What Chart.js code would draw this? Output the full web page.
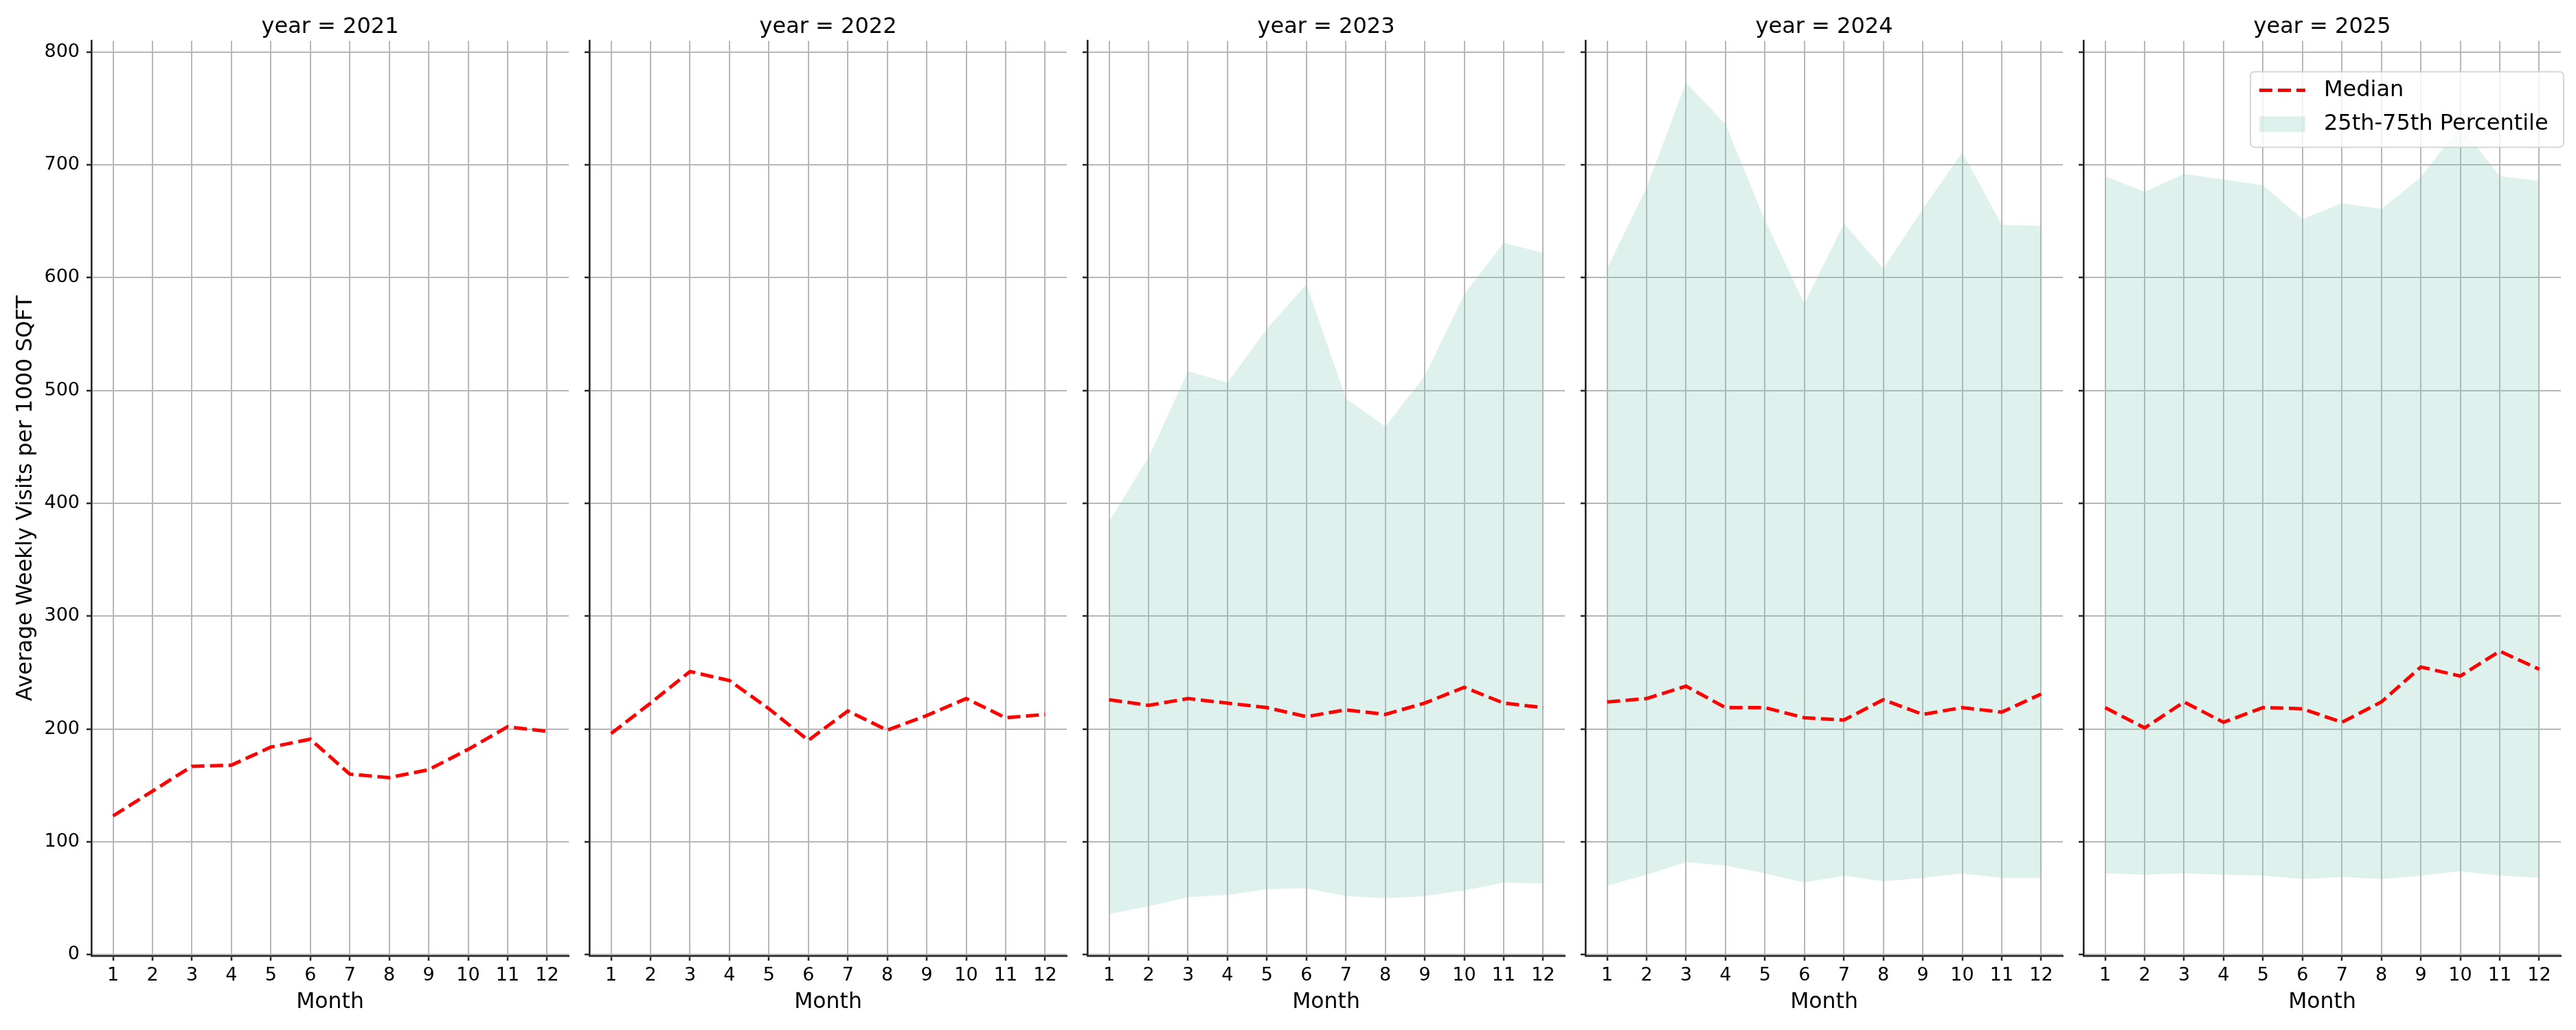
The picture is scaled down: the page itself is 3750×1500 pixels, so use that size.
<!DOCTYPE html>
<html>
<head>
<meta charset="utf-8">
<script src="https://cdn.jsdelivr.net/npm/chart.js@4"></script>
<style>
    body { margin: 0; background: #fff; width: 3750px; height: 1500px; position: relative; overflow: hidden; }
    canvas { position: absolute; top: 0; }
</style>
</head>
<body>
<canvas id="p0" width="838" height="1500"></canvas>
<canvas id="p1" width="838" height="1500"></canvas>
<canvas id="p2" width="838" height="1500"></canvas>
<canvas id="p3" width="838" height="1500"></canvas>
<canvas id="p4" width="838" height="1500"></canvas>
<script>
const $ = id => document.getElementById(id);

// dados
const months = [1, 2, 3, 4, 5, 6, 7, 8, 9, 10, 11, 12];
const years = [2021, 2022, 2023, 2024, 2025];
const yTicks = [0, 100, 200, 300, 400, 500, 600, 700, 800];

const median2021 = [123, 145, 167, 168, 184, 191, 160, 157, 164, 182, 202, 198];
const median2022 = [196, 223, 251, 243, 218, 190, 216, 199, 212, 227, 210, 213];

const median2023 = [226, 221, 227, 223, 219, 211, 217, 213, 223, 237, 223, 219];
const p25_2023 = [36, 43, 51, 53, 58, 59, 52, 50, 52, 57, 64, 63];
const p75_2023 = [384, 441, 517, 507, 555, 594, 493, 468, 513, 585, 631, 622];

const median2024 = [224, 227, 238, 219, 219, 210, 208, 226, 213, 219, 215, 231];
const p25_2024 = [61, 71, 82, 79, 72, 64, 70, 65, 68, 72, 68, 68];
const p75_2024 = [608, 680, 773, 736, 651, 577, 648, 608, 661, 711, 647, 646];

const median2025 = [219, 201, 224, 206, 219, 218, 206, 224, 255, 247, 269, 253];
const p25_2025 = [72, 71, 72, 71, 70, 67, 69, 67, 70, 74, 70, 68];
const p75_2025 = [690, 676, 692, 687, 682, 652, 666, 661, 689, 735, 690, 686];

const medians = [median2021, median2022, median2023, median2024, median2025];
const lows = [null, null, p25_2023, p25_2024, p25_2025];
const highs = [null, null, p75_2023, p75_2024, p75_2025];

const FILL = "rgba(127,199,179,0.25)";
const GRID = "#b7b7b7";
const AXIS = "#262626";

Chart.defaults.font.family = "'DejaVu Sans', sans-serif";
Chart.defaults.color = "#000";

const pontos = arr => months.map((m, i) => ({ x: m, y: arr[i] }));

const legendaBox = {
    id: "legendaBox",
    afterDraw(chart) {
        const { ctx, chartArea: ca } = chart;
        const left = ca.right - 452;
        const top = ca.top + 45;

        ctx.save();
        ctx.beginPath();
        ctx.roundRect(left, top, 456, 110, 6);
        ctx.fillStyle = "rgba(255,255,255,0.8)";
        ctx.fill();
        ctx.lineWidth = 2;
        ctx.strokeStyle = "rgba(204,204,204,0.8)";
        ctx.stroke();

        ctx.beginPath();
        ctx.setLineDash([19, 8]);
        ctx.strokeStyle = "#ff0000";
        ctx.lineWidth = 5;
        ctx.moveTo(left + 13, top + 27);
        ctx.lineTo(left + 80, top + 27);
        ctx.stroke();
        ctx.setLineDash([]);

        ctx.fillStyle = FILL;
        ctx.fillRect(left + 13, top + 65, 67, 23);

        ctx.fillStyle = "#000";
        ctx.font = "32px 'DejaVu Sans'";
        ctx.textBaseline = "middle";
        ctx.fillText("Median", left + 107, top + 27);
        ctx.fillText("25th-75th Percentile", left + 107, top + 76);
        ctx.restore();
    }
};

function criarPainel(i) {
    const canvas = $("p" + i);
    canvas.style.left = (725 * i) + "px";

    const datasets = [{
        label: "Median",
        data: pontos(medians[i]),
        borderColor: "#ff0000",
        borderWidth: 5,
        borderDash: [19, 8],
        pointRadius: 0,
        fill: false,
        tension: 0
    }];

    if (lows[i]) {
        datasets.push({
            label: "p25",
            data: pontos(lows[i]),
            borderWidth: 0,
            pointRadius: 0,
            fill: false
        });
        datasets.push({
            label: "25th-75th Percentile",
            data: pontos(highs[i]),
            borderWidth: 0,
            pointRadius: 0,
            backgroundColor: FILL,
            fill: "-1"
        });
    }

    new Chart(canvas, {
        type: "line",
        data: { datasets },
        plugins: i === 4 ? [legendaBox] : [],
        options: {
            responsive: false,
            animation: false,
            devicePixelRatio: 1,
            layout: { padding: { left: 0, right: 10, top: 0, bottom: 0 } },
            plugins: {
                legend: { display: false },
                tooltip: { enabled: false },
                title: {
                    display: true,
                    text: "year = " + years[i],
                    fullSize: false,
                    color: "#000",
                    font: { size: 32, weight: "normal" },
                    padding: { top: 20, bottom: 1 }
                }
            },
            scales: {
                x: {
                    type: "linear",
                    min: 0.45,
                    max: 12.55,
                    afterFit: s => { s.height = 108; },
                    ticks: {
                        stepSize: 1,
                        includeBounds: false,
                        autoSkip: false,
                        maxRotation: 0,
                        padding: 6,
                        color: "#000",
                        font: { size: 27 }
                    },
                    grid: { color: GRID, lineWidth: 2, tickLength: 7, tickColor: AXIS, tickWidth: 2.5 },
                    border: { color: AXIS, width: 2.6 },
                    title: {
                        display: true,
                        text: "Month",
                        color: "#000",
                        font: { size: 31.5 },
                        padding: { top: 0, bottom: 21 }
                    }
                },
                y: {
                    min: -1,
                    max: 810,
                    afterFit: s => { s.width = 133; },
                    afterBuildTicks: s => { s.ticks = yTicks.map(v => ({ value: v })); },
                    ticks: {
                        display: i === 0,
                        padding: 10,
                        color: "#000",
                        font: { size: 27 }
                    },
                    grid: { color: GRID, lineWidth: 2, tickLength: 7, tickColor: AXIS, tickWidth: 2.5 },
                    border: { color: AXIS, width: 2.6 },
                    title: {
                        display: i === 0,
                        text: "Average Weekly Visits per 1000 SQFT",
                        color: "#000",
                        font: { size: 31.5 },
                        padding: { top: 19, bottom: 0 }
                    }
                }
            }
        }
    });
}

window.onload = () => {
    years.forEach((_, i) => criarPainel(i));
};
</script>
</body>
</html>
